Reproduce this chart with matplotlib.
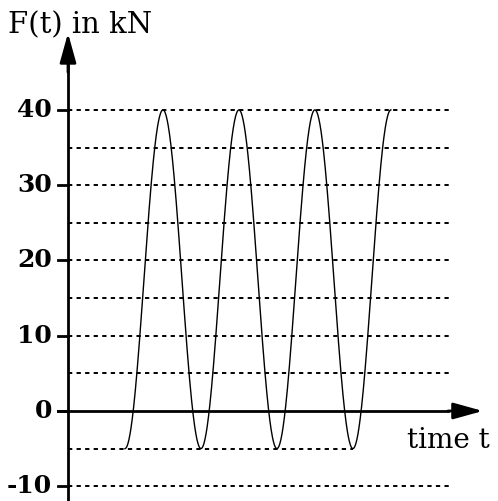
import matplotlib.pyplot as plt
import numpy as np

# force values (kN)
F_min = -5
F_max = 40
grid_levels = [40, 35, 30, 25, 20, 15, 10, 5, -5, -10]
tick_values = [40, 30, 20, 10, 0, -10]
tick_labels = ['40', '30', '20', '10', '0', '-10']

# time: period = 1, curve starts in a trough, ends at the 4th peak
period = 1.0
t_start = 0.75
t_end = 4.25

plt.rcParams['font.family'] = ['DejaVu Serif']

fig = plt.figure(figsize=(4.98, 5.01), dpi=100)
ax = fig.add_axes([0, 0, 1, 1])
ax.set_xlim(-0.895, 5.66)
ax.set_ylim(-11.96, 54.6)
ax.axis('off')

# cosine between min and max
t = np.linspace(t_start, t_end, 800)
mean = (F_max + F_min) / 2
amp = (F_max - F_min) / 2
F = mean - amp * np.cos(2 * np.pi * (t - t_start) / period)
ax.plot(t, F, color='black', lw=1.0)

# dotted grid lines
for g in grid_levels:
    x1 = 3.75 if g == -5 else 5.03
    ax.plot([0.0, x1], [g, g], color='black', lw=1.4, ls=(0, (2.2, 2.2)))

# axes with arrows
arrow = dict(arrowstyle='-|>,head_width=0.5,head_length=1.8',
             color='black', lw=2, shrinkA=0, shrinkB=0)
ax.plot([0, 0], [-12, 46], color='black', lw=2)
ax.annotate('', xy=(0, 50.2), xytext=(0, 45), arrowprops=arrow)
ax.plot([-0.13, 5.0], [0, 0], color='black', lw=2)
ax.annotate('', xy=(5.46, 0), xytext=(5.0, 0), arrowprops=arrow)

# tick marks and labels
for v, lab in zip(tick_values, tick_labels):
    ax.plot([-0.13, 0], [v, v], color='black', lw=2)
    ax.text(-0.21, v, lab, ha='right', va='center', fontsize=18,
            fontweight='bold')

ax.text(-0.79, 50.2, 'F(t) in kN', ha='left', va='baseline', fontsize=21)
ax.text(5.55, -4.92, 'time t', ha='right', va='baseline', fontsize=20)

fig.savefig('out.png', dpi=100)
